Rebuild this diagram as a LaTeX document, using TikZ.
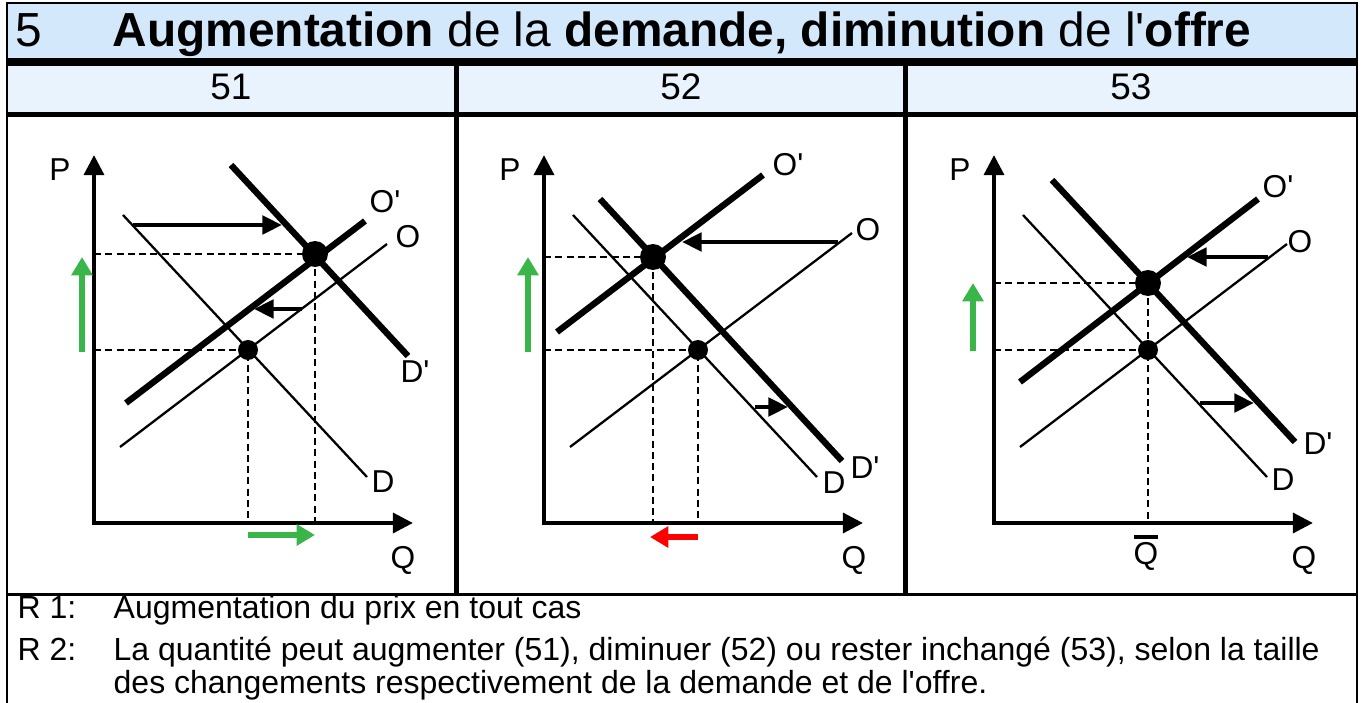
\documentclass[tikz,border=0pt]{standalone}
\usepackage{fontspec}
\setmainfont{Liberation Sans}[Ligatures=TeXOff]
\usetikzlibrary{arrows.meta}
\definecolor{titleblue}{RGB}{212,232,252}
\definecolor{numblue}{RGB}{233,243,253}
\definecolor{upgreen}{RGB}{57,181,74}

\begin{document}
\begin{tikzpicture}[x=0.01cm,y=-0.01cm,
    axisline/.style={line width=1.2pt,-{Triangle[length=5.7pt,width=5.6pt]}},
    oldcurve/.style={line width=0.65pt},
    newcurve/.style={line width=1.8pt},
    guide/.style={line width=0.8pt,dash pattern=on 2pt off 1.2pt},
    shiftarrow/.style={line width=1.2pt,-{Triangle[length=5.6pt,width=5.2pt]}},
    qparrow/.style={line width=1.5pt,-{Triangle[length=5.2pt,width=5.8pt]}},
    lab/.style={font=\fontsize{9}{11}\selectfont},
    txt/.style={anchor=base west,inner sep=0pt,font=\fontsize{9.1}{11}\selectfont}]
    \useasboundingbox (0,0) rectangle (1362,703);
    % frame
    \fill[titleblue] (7,3) rectangle (1357,58);
    \fill[numblue] (7,66) rectangle (1357,112);
    \draw[line width=0.8pt] (7,703) -- (7,3) -- (1357,3) -- (1357,703);
    \draw[line width=2.5pt] (7,62) -- (1357,62);
    \draw[line width=1.4pt] (7,114.5) -- (1357,114.5);
    \draw[line width=1pt] (7,594.5) -- (1357,594.5);
    \draw[line width=1.4pt] (456.5,62) -- (456.5,594.5);
    \draw[line width=1.4pt] (905.5,62) -- (905.5,594.5);
    \node[anchor=base west,inner sep=0pt,font=\fontsize{13.6}{16}\selectfont] (num) at (15,47) {5};
    \node[anchor=base west,inner sep=0pt,font=\fontsize{13.6}{16}\selectfont] (title) at (112,47) {\textbf{Augmentation} de la \textbf{demande, diminution} de l'\textbf{offre}};
    \node[anchor=base,inner sep=0pt,font=\fontsize{10.5}{12}\selectfont] (n51) at (231,100) {51};
    \node[anchor=base,inner sep=0pt,font=\fontsize{10.5}{12}\selectfont] (n52) at (681,100) {52};
    \node[anchor=base,inner sep=0pt,font=\fontsize{10.5}{12}\selectfont] (n53) at (1131,100) {53};

    % 51
    \coordinate (o1) at (94,523);
    \coordinate (e1) at (248,350);
    \coordinate (f1) at (315,254);
    \draw[guide] (e1 -| o1) -- (e1) -- (e1 |- o1);
    \draw[guide] (f1 -| o1) -- (f1) -- (f1 |- o1);
    \draw[axisline] (94,525) -- (94,155);
    \draw[axisline] (94,523) -- (413,523);
    \draw[oldcurve] (123,215) -- (367,477);
    \draw[oldcurve] (120,447) -- (387,244);
    \draw[newcurve] (231,165) -- (408,356);
    \draw[newcurve] (126,403) -- (365,221);
    \fill (e1) circle (10);
    \fill (f1) circle (13);
    \draw[shiftarrow] (133,225) -- (282,225);
    \draw[shiftarrow] (302,309) -- (254,309);
    \draw[qparrow,upgreen] (82,352) -- (82,257);
    \draw[qparrow,upgreen] (248,535) -- (315,535);
    \node[lab] (p1) at (60,170) {P};
    \node[lab] (q1) at (403,560) {Q};
    \node[lab] (d1) at (383,482) {D};
    \node[lab] (s1) at (408,237) {O};
    \node[lab] (ss1) at (385,202) {O'};
    \node[lab] (dd1) at (415,372) {D'};

    % 52
    \coordinate (o2) at (544,523);
    \coordinate (e2) at (698,350);
    \coordinate (f2) at (653,257);
    \draw[guide] (e2 -| o2) -- (e2) -- (e2 |- o2);
    \draw[guide] (f2 -| o2) -- (f2) -- (f2 |- o2);
    \draw[axisline] (544,525) -- (544,155);
    \draw[axisline] (544,523) -- (863,523);
    \draw[oldcurve] (573,215) -- (817,477);
    \draw[oldcurve] (570,447) -- (852,233);
    \draw[newcurve] (600,199) -- (842,461);
    \draw[newcurve] (557,332) -- (763,175);
    \fill (e2) circle (10);
    \fill (f2) circle (13);
    \draw[shiftarrow] (838,242) -- (682,242);
    \draw[shiftarrow] (755,407) -- (788,407);
    \draw[qparrow,upgreen] (528,352) -- (528,257);
    \draw[qparrow,red] (698,537) -- (650,537);
    \node[lab] (p2) at (510,170) {P};
    \node[lab] (q2) at (854,560) {Q};
    \node[lab] (d2) at (834,483) {D};
    \node[lab] (s2) at (868,230) {O};
    \node[lab] (ss2) at (788,165) {O'};
    \node[lab] (dd2) at (865,468) {D'};

    % 53
    \coordinate (o3) at (994,523);
    \coordinate (e3) at (1148,350);
    \coordinate (f3) at (1148,283);
    \draw[guide] (e3 -| o3) -- (e3);
    \draw[guide] (f3 -| o3) -- (f3) -- (f3 |- o3);
    \draw[axisline] (994,525) -- (994,155);
    \draw[axisline] (994,523) -- (1313,523);
    \draw[oldcurve] (1023,215) -- (1267,477);
    \draw[oldcurve] (1020,447) -- (1287,244);
    \draw[newcurve] (1052,180) -- (1295,442);
    \draw[newcurve] (1020,382) -- (1258,199);
    \fill (e3) circle (10);
    \fill (f3) circle (13);
    \draw[shiftarrow] (1268,257) -- (1187,257);
    \draw[shiftarrow] (1200,403) -- (1254,403);
    \draw[qparrow,upgreen] (973,351) -- (973,283);
    \node[lab] (p3) at (960,170) {P};
    \node[lab] (q3) at (1304,560) {Q};
    \node[lab] (d3) at (1283,480) {D};
    \node[lab] (s3) at (1300,242) {O};
    \node[lab] (ss3) at (1278,187) {O'};
    \node[lab] (dd3) at (1318,444) {D'};
    \node[lab] (qbar) at (1146,556) {Q};
    \draw[line width=1.3pt] (1134,537) -- (1158,537);

    % remarks
    \node[txt] (r1) at (17,618) {R 1:};
    \node[txt] (r1text) at (113,618) {Augmentation du prix en tout cas};
    \node[txt] (r2) at (17,660) {R 2:};
    \node[txt] (r2text) at (113,660) {La quantité peut augmenter (51), diminuer (52) ou rester inchangé (53), selon la taille};
    \node[txt] (r2more) at (113,693) {des changements respectivement de la demande et de l'offre.};
\end{tikzpicture}
\end{document}
